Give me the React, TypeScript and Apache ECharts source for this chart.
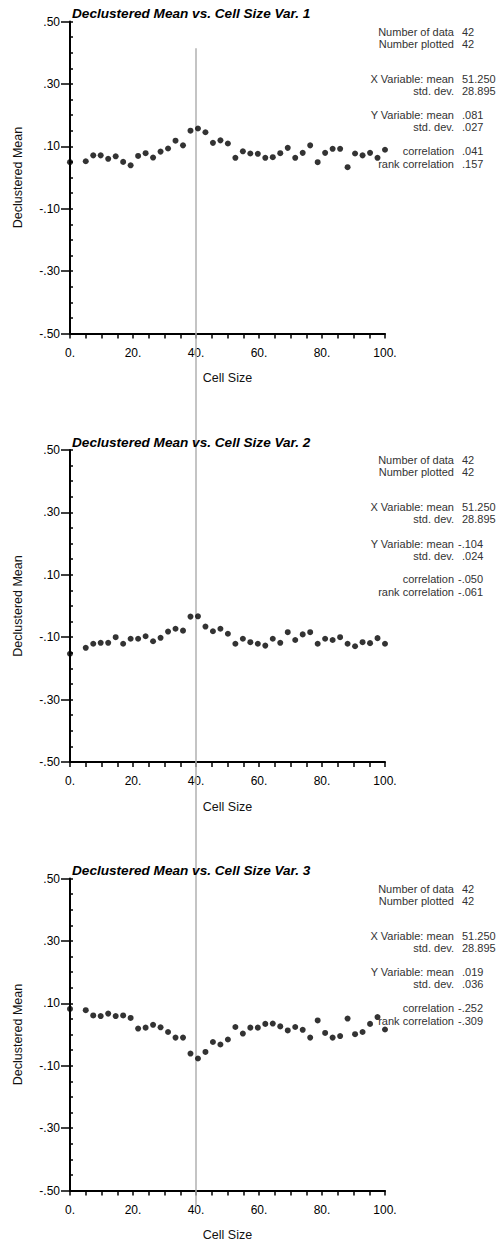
import React, { useEffect, useRef } from "react";
import * as echarts from "echarts";

// Cell sizes tested by the declustering run (same for every variable)
const cellSizes = [
  0, 5, 7.375, 9.75, 12.125, 14.5, 16.875, 19.25, 21.625, 24, 26.375, 28.75,
  31.125, 33.5, 35.875, 38.25, 40.625, 43, 45.375, 47.75, 50.125, 52.5,
  54.875, 57.25, 59.625, 62, 64.375, 66.75, 69.125, 71.5, 73.875, 76.25,
  78.625, 81, 83.375, 85.75, 88.125, 90.5, 92.875, 95.25, 97.625, 100,
];

const var1Means = [
  0.049, 0.052, 0.071, 0.071, 0.06, 0.068, 0.05, 0.039, 0.069, 0.078, 0.064,
  0.083, 0.093, 0.118, 0.103, 0.15, 0.157, 0.145, 0.111, 0.119, 0.109, 0.063,
  0.084, 0.077, 0.076, 0.063, 0.065, 0.078, 0.095, 0.063, 0.079, 0.103, 0.049,
  0.079, 0.092, 0.092, 0.033, 0.077, 0.071, 0.079, 0.063, 0.089,
];

const var2Means = [
  -0.153, -0.134, -0.121, -0.118, -0.118, -0.1, -0.121, -0.105, -0.105, -0.097,
  -0.113, -0.102, -0.082, -0.073, -0.079, -0.034, -0.033, -0.066, -0.081,
  -0.073, -0.089, -0.121, -0.105, -0.116, -0.121, -0.127, -0.105, -0.118,
  -0.084, -0.109, -0.091, -0.084, -0.121, -0.105, -0.109, -0.1, -0.121, -0.129,
  -0.116, -0.119, -0.103, -0.121,
];

const var3Means = [
  0.082, 0.078, 0.061, 0.059, 0.067, 0.059, 0.061, 0.053, 0.019, 0.022, 0.031,
  0.023, 0.008, -0.01, -0.01, -0.061, -0.077, -0.056, -0.024, -0.032, -0.016,
  0.024, 0.003, 0.022, 0.022, 0.034, 0.035, 0.026, 0.013, 0.024, 0.015, -0.01,
  0.045, 0.005, -0.01, -0.005, 0.051, 0.001, 0.008, 0.034, 0.056, 0.016,
];

const panelTitles = [
  "Declustered Mean vs. Cell Size Var. 1",
  "Declustered Mean vs. Cell Size Var. 2",
  "Declustered Mean vs. Cell Size Var. 3",
];

const statLabels = [
  "Number of data",
  "Number plotted",
  "X Variable: mean",
  "std. dev.",
  "Y Variable: mean",
  "std. dev.",
  "correlation",
  "rank correlation",
];
const var1Stats = ["42", "42", "51.250", "28.895", ".081", ".027", ".041", ".157"];
const var2Stats = ["42", "42", "51.250", "28.895", "-.104", ".024", "-.050", "-.061"];
const var3Stats = ["42", "42", "51.250", "28.895", ".019", ".036", "-.252", "-.309"];

const xAxisName = "Cell Size";
const yAxisName = "Declustered Mean";
const chosenCellSize = 40;

// layout
const W = 501;
const H = 1245;
const GRID_LEFT = 70;
const GRID_WIDTH = 315;
const GRID_HEIGHT = 312;
const GRID_TOPS = [21.5, 450, 878.5];
const STAT_ROW_OFFSETS = [10.3, 22.3, 57.3, 69.3, 93.7, 105.7, 129, 142];
const STAT_LABEL_RIGHT = 454;
const STAT_VALUE_LEFT = 462;
const STAT_FONT_SIZE = 11;
const FONT = '"Liberation Sans", Arial, Helvetica, sans-serif';

const allMeans = [var1Means, var2Means, var3Means];
const allStats = [var1Stats, var2Stats, var3Stats];

function yLabel(v: number): string {
  const k = Math.round(v * 100);
  if ((k + 50) % 20 !== 0) return "";
  return (k / 100).toFixed(2).replace("0.", ".");
}

function xLabel(v: number): string {
  return Math.round(v) % 20 === 0 ? `${Math.round(v)}.` : "";
}

export default function App() {
  const ref = useRef<HTMLDivElement>(null);

  useEffect(() => {
    if (!ref.current) return;
    const chart = echarts.init(ref.current, undefined, { renderer: "svg" });

    const panels = [0, 1, 2];

    const option: any = {
      animation: false,
      backgroundColor: "#fff",
      grid: GRID_TOPS.map((top) => ({
        left: GRID_LEFT,
        top,
        width: GRID_WIDTH,
        height: GRID_HEIGHT,
        containLabel: false,
        outerBoundsMode: "none",
      })),
      xAxis: panels.map((i) => ({
        type: "value",
        gridIndex: i,
        min: 0,
        max: 100,
        interval: 5,
        axisLine: { show: true, onZero: false, lineStyle: { color: "#000", width: 2 } },
        axisTick: { show: true, inside: false, length: 5, lineStyle: { color: "#000", width: 1.5 } },
        axisLabel: {
          show: true,
          margin: 13,
          color: "#000",
          fontFamily: FONT,
          fontSize: 12,
          formatter: xLabel,
        },
        splitLine: { show: false },
      })),
      yAxis: panels.flatMap((i) => [
        {
          type: "value",
          gridIndex: i,
          position: "left",
          min: -0.5,
          max: 0.5,
          interval: 0.05,
          axisLine: { show: true, onZero: false, lineStyle: { color: "#000", width: 2 } },
          axisTick: { show: true, inside: true, length: 3, lineStyle: { color: "#000", width: 1.5 } },
          axisLabel: {
            show: true,
            margin: 10,
            color: "#000",
            fontFamily: FONT,
            fontSize: 12,
            padding: [0, 0, 5, 0],
            formatter: yLabel,
          },
          splitLine: { show: false },
        },
        {
          type: "value",
          gridIndex: i,
          position: "left",
          min: -0.5,
          max: 0.5,
          interval: 0.2,
          axisLine: { show: false, onZero: false },
          axisTick: { show: true, inside: false, length: 9, lineStyle: { color: "#000", width: 1.5 } },
          axisLabel: { show: false },
          splitLine: { show: false },
        },
      ]),
      series: panels.map((i) => ({
        type: "scatter",
        xAxisIndex: i,
        yAxisIndex: 2 * i,
        data: cellSizes.map((x, j) => [x, allMeans[i][j]]),
        symbol: "circle",
        symbolSize: 6,
        itemStyle: { color: "#000" },
        clip: false,
        z: 3,
      })),
    };

    chart.setOption(option);

    // vertical reference line at the chosen cell size, running through all panels
    const top1 = chart.convertToPixel({ gridIndex: 0 }, [chosenCellSize, 0.414]) as number[];
    const bot3 = chart.convertToPixel({ gridIndex: 2 }, [chosenCellSize, -0.5]) as number[];

    const graphic: any[] = [
      {
        type: "line",
        z: 1,
        silent: true,
        shape: { x1: top1[0], y1: top1[1], x2: bot3[0], y2: bot3[1] + 16 },
        style: { stroke: "#b0b0b0", lineWidth: 1.5 },
      },
    ];

    panels.forEach((i) => {
      const top = GRID_TOPS[i];
      const bottom = top + GRID_HEIGHT;
      graphic.push({
        type: "text",
        x: GRID_LEFT + 2,
        y: top - 8,
        z: 5,
        style: {
          text: panelTitles[i],
          fill: "#000",
          font: `italic bold 13.6px ${FONT}`,
          align: "left",
          verticalAlign: "middle",
        },
      });
      graphic.push({
        type: "text",
        x: 18,
        y: top + GRID_HEIGHT / 2,
        rotation: Math.PI / 2,
        z: 5,
        style: {
          text: yAxisName,
          fill: "#111",
          font: `12.5px ${FONT}`,
          align: "center",
          verticalAlign: "middle",
        },
      });
      graphic.push({
        type: "text",
        x: GRID_LEFT + GRID_WIDTH / 2,
        y: bottom + 44.5,
        z: 5,
        style: {
          text: xAxisName,
          fill: "#111",
          font: `12.5px ${FONT}`,
          align: "center",
          verticalAlign: "middle",
        },
      });
      statLabels.forEach((label, r) => {
        const y = top + STAT_ROW_OFFSETS[r];
        graphic.push({
          type: "text",
          x: STAT_LABEL_RIGHT,
          y,
          z: 5,
          style: {
            text: label,
            fill: "#333",
            font: `${STAT_FONT_SIZE}px ${FONT}`,
            align: "right",
            verticalAlign: "middle",
          },
        });
        // a leading minus hangs left of the value column
        const val = allStats[i][r];
        graphic.push({
          type: "text",
          x: val.startsWith("-") ? STAT_VALUE_LEFT - 4 : STAT_VALUE_LEFT,
          y,
          z: 5,
          style: {
            text: val,
            fill: "#333",
            font: `${STAT_FONT_SIZE}px ${FONT}`,
            align: "left",
            verticalAlign: "middle",
          },
        });
      });
    });

    chart.setOption({ graphic });

    return () => chart.dispose();
  }, []);

  return (
    <div
      ref={ref}
      style={{ position: "absolute", left: 0, top: 0, width: W, height: H, background: "#fff" }}
    />
  );
}
